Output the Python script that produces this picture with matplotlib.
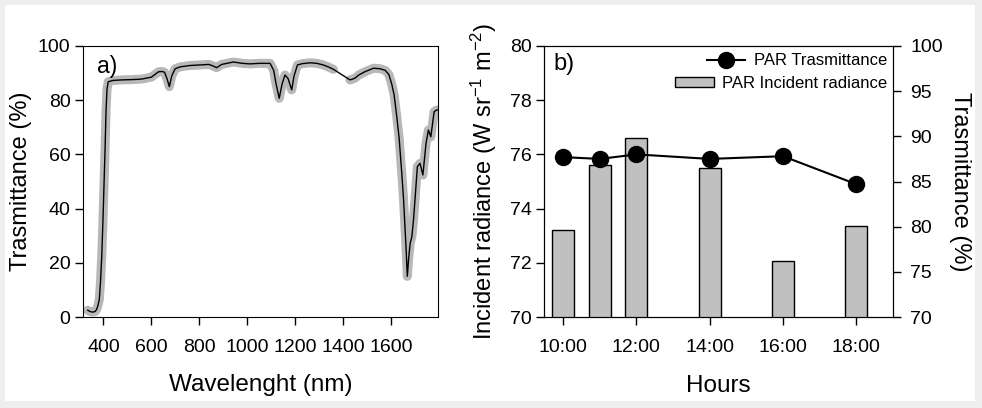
import numpy as np
import matplotlib
matplotlib.use("Agg")
from matplotlib import pyplot as plt
import matplotlib.patches as patches

plt.rcParams['font.family'] = ['Liberation Sans', 'DejaVu Sans']
plt.rcParams['mathtext.fontset'] = 'custom'
plt.rcParams['mathtext.rm'] = 'Liberation Sans'
plt.rcParams['mathtext.it'] = 'Liberation Sans'

# panel a: transmittance spectrum
wavelength = [335, 345, 355, 365, 372, 378, 383, 388, 393, 398, 403, 407, 411, 415, 420,
              440, 480, 520, 560, 600, 615, 630, 645, 655, 665, 675, 685, 699, 720, 760,
              800, 840, 858, 872, 893, 942, 980, 1011, 1050, 1095, 1110, 1120, 1133, 1145,
              1157, 1170, 1185, 1195, 1209, 1230, 1262, 1290, 1317, 1340, 1359, 1428, 1436,
              1450, 1463, 1490, 1526, 1554, 1575, 1590, 1602, 1612, 1623, 1633, 1644, 1651,
              1661, 1667, 1673, 1679, 1686, 1693, 1699, 1709, 1720, 1732, 1745, 1755, 1765,
              1779, 1790, 1797]
transmittance = [2.5, 2.0, 1.8, 2.0, 2.8, 4.5, 6.5, 13, 22, 35, 50, 62, 76, 84, 86.8,
                 87.3, 87.5, 87.6, 87.8, 88.5, 89.5, 90.5, 90.6, 90.3, 88, 85, 89, 91.6, 92.3, 92.8,
                 93.0, 93.2, 92.6, 92.0, 93.2, 94.1, 93.6, 93.4, 93.6, 93.6, 91, 86, 80.7, 86,
                 89.3, 88, 83.8, 89, 93, 93.5, 93.8, 93.6, 93, 92.2, 91.4, 87.5, 87.7,
                 88.2, 89.2, 90.5, 91.8, 91.6, 91, 89.5, 86, 82, 74, 66, 53, 44,
                 27, 15, 22, 27.2, 29.6, 36, 43.2, 55.5, 56.7, 52.4, 64, 69, 66.5,
                 75.8, 76.4, 76.4]
gap_start, gap_end = 1359, 1428   # no grey markers in this range

# panel b: PAR
hours = [10, 11, 12, 14, 16, 18]
incident = [73.2, 75.6, 76.6, 75.5, 72.05, 73.35]
par_trans = [87.7, 87.5, 88.0, 87.5, 87.8, 84.7]
hour_ticks = [10, 12, 14, 16, 18]
hour_labels = ['10:00', '12:00', '14:00', '16:00', '18:00']

fig = plt.figure(figsize=(9.82, 4.08), dpi=100, facecolor='#eeeeee')
fig.patches.append(patches.Rectangle((5 / 982, 7 / 408), 970 / 982, 396 / 408,
                                     transform=fig.transFigure, facecolor='white',
                                     edgecolor='none', zorder=-10))

tick_kw = dict(direction='out', length=5.5, width=1, labelsize=14, colors='black')

# ---- a)
ax = fig.add_axes([83 / 982, 91 / 408, 355 / 982, 271 / 408])
wl = np.array(wavelength, dtype=float)
tr = np.array(transmittance, dtype=float)
lo = wl <= gap_start
hi = wl >= gap_end
for m in (lo, hi):
    ax.plot(wl[m], tr[m], color='#b8b8b8', lw=6.5, solid_capstyle='round',
            solid_joinstyle='round')
ax.plot(wl, tr, color='black', lw=1.0)
ax.set_xlim(315, 1795)
ax.set_ylim(0, 100)
ax.set_xticks([400, 600, 800, 1000, 1200, 1400, 1600])
ax.set_yticks([0, 20, 40, 60, 80, 100])
ax.tick_params(**tick_kw)
ax.tick_params(axis='x', pad=10)
ax.set_xlabel('Wavelenght (nm)', fontsize=17.5, labelpad=13)
ax.set_ylabel('Trasmittance (%)', fontsize=17, labelpad=4)
ax.text(0.039, 0.965, 'a)', transform=ax.transAxes, fontsize=16.5, va='top')

# ---- b)
axb = fig.add_axes([544 / 982, 91 / 408, 349 / 982, 271 / 408])
bars = axb.bar(hours, incident, width=0.6, color='#c0c0c0', edgecolor='black', lw=1)
axb.set_xlim(9.48, 19.0)
axb.set_ylim(70, 80)
axb.set_yticks([70, 72, 74, 76, 78, 80])
axb.set_xticks(hour_ticks)
axb.set_xticklabels(hour_labels)
axb.tick_params(**tick_kw)
axb.tick_params(axis='x', pad=10)
axb.set_xlabel('Hours', fontsize=17.5, labelpad=14)
axb.set_ylabel('Incident radiance (W sr$^{-1}$ m$^{-2}$)', fontsize=17, labelpad=8)

ax2 = axb.twinx()
line, = ax2.plot(hours, par_trans, color='black', lw=1.5, marker='o', ms=11.5)
ax2.set_ylim(70, 100)
ax2.set_yticks([70, 75, 80, 85, 90, 95, 100])
ax2.tick_params(**tick_kw)
ax2.tick_params(axis='y', pad=7)
ax2.set_ylabel('Trasmittance (%)', fontsize=17, rotation=270, labelpad=20)
ax2.text(0.026, 0.975, 'b)', transform=ax2.transAxes, fontsize=17, va='top')

leg_kw = dict(frameon=False, fontsize=12, handlelength=2.3, handleheight=0.55,
              handletextpad=0.5, borderpad=0, borderaxespad=0, loc='center right')
leg1 = ax2.legend([line], ['PAR Trasmittance'], bbox_to_anchor=(0.983, 0.945), **leg_kw)
ax2.add_artist(leg1)
ax2.legend([bars], ['PAR Incident radiance'], bbox_to_anchor=(0.983, 0.862), **leg_kw)

fig.savefig('out.png', dpi=100, facecolor=fig.get_facecolor())
